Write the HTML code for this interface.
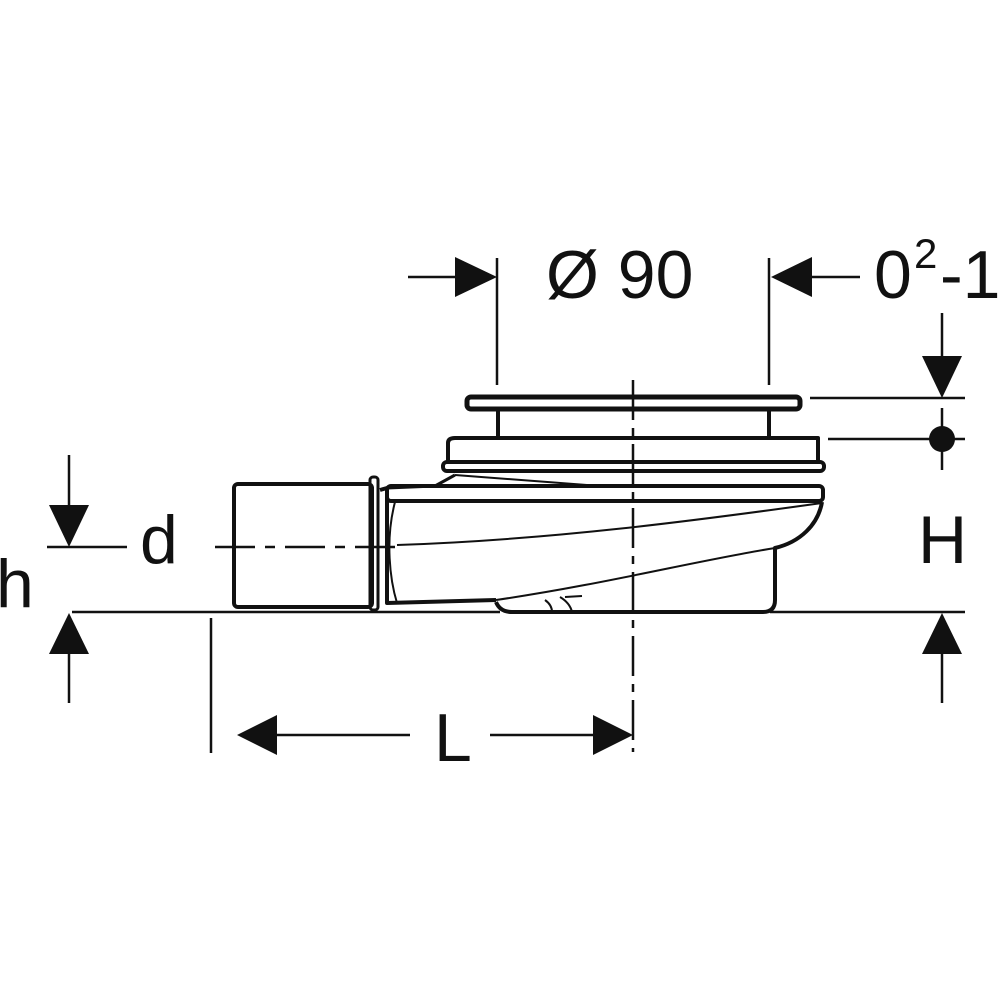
<!DOCTYPE html>
<html><head><style>body{margin:0;background:#fff}svg{display:block}</style></head><body>
<svg width="1000" height="1000" viewBox="0 0 1000 1000" xmlns="http://www.w3.org/2000/svg">
<g fill="none" stroke="#111" stroke-width="2.5">
<line x1="497" y1="258" x2="497" y2="385"/>
<line x1="769" y1="258" x2="769" y2="385"/>
<line x1="408" y1="277" x2="460" y2="277"/>
<line x1="810" y1="277" x2="860" y2="277"/>
<line x1="810" y1="398" x2="965" y2="398"/>
<line x1="828" y1="439" x2="965" y2="439"/>
<line x1="942" y1="313" x2="942" y2="360"/>
<line x1="942" y1="408" x2="942" y2="470"/>
<line x1="770" y1="612" x2="965" y2="612"/>
<line x1="942" y1="650" x2="942" y2="703"/>
<line x1="69" y1="455" x2="69" y2="510"/>
<line x1="47" y1="547" x2="127" y2="547"/>
<line x1="72" y1="612" x2="500" y2="612"/>
<line x1="69" y1="650" x2="69" y2="703"/>
<line x1="211" y1="618" x2="211" y2="753"/>
<line x1="270" y1="735" x2="410" y2="735"/>
<line x1="490" y1="735" x2="600" y2="735"/>
<line x1="633" y1="380" x2="633" y2="752" stroke-dasharray="40,8,8,8"/>
<line x1="215" y1="547" x2="395" y2="547" stroke-dasharray="40,10,10,10"/>
</g>
<g fill="#111">
<polygon points="497,277 455,257 455,297"/>
<polygon points="771,277 812,257 812,297"/>
<polygon points="942,398 922,356 962,356"/>
<circle cx="942" cy="439" r="13"/>
<polygon points="942,613 922,654 962,654"/>
<polygon points="69,547 49,505 89,505"/>
<polygon points="69,613 49,654 89,654"/>
<polygon points="237,735 277,715 277,755"/>
<polygon points="633,735 593,715 593,755"/>
</g>
<g font-family="Liberation Sans, sans-serif" fill="#111" font-size="68">
<text x="546" y="298">Ø 90</text>
<text x="874" y="298">0</text><text x="914" y="268" font-size="42">2</text><text x="940" y="298">-1</text>
<text x="140" y="563">d</text>
<text x="-4" y="607">h</text>
<text x="918" y="563">H</text>
<text x="434" y="761">L</text>
</g>
<g fill="none" stroke="#111" stroke-linejoin="round">
<rect x="234" y="484" width="138" height="123" rx="4" stroke-width="4"/>
<rect x="370" y="477" width="8" height="133" rx="3" stroke-width="3"/>
<path d="M380,490 L387,488 L387,603 L496,600" stroke-width="4"/>
<path d="M387,488 L435,486 L455,475" stroke-width="3"/>
<rect x="387" y="486" width="436" height="15" rx="4" stroke-width="4"/>
<path d="M395,502 C385,540 390,580 397,603" stroke-width="2"/>
<path d="M397,545 C550,540 700,520 822,503" stroke-width="2"/>
<path d="M496,600 C600,585 700,560 775,548" stroke-width="2"/>
<path d="M822,502 C818,525 800,542 775,548 L775,600 Q775,612 763,612 L512,612 Q500,612 496,602" stroke-width="4"/>
<path d="M545,600 Q552,605 552,612 M560,597 Q570,603 572,612 M565,597 L582,596" stroke-width="2"/>
<path d="M455,470 L823,470 M455,475 L600,486" stroke-width="2"/>
<rect x="443" y="462" width="381" height="9" rx="4" stroke-width="4"/>
<path d="M448,462 L448,443 Q448,438 455,438 L818,438 Q818,440 818,462" stroke-width="4"/>
<line x1="498" y1="409" x2="498" y2="438" stroke-width="4"/>
<line x1="769" y1="409" x2="769" y2="438" stroke-width="4"/>
<rect x="467" y="397" width="333" height="12" rx="4" stroke-width="5"/>
</g>
</svg>
</body></html>
